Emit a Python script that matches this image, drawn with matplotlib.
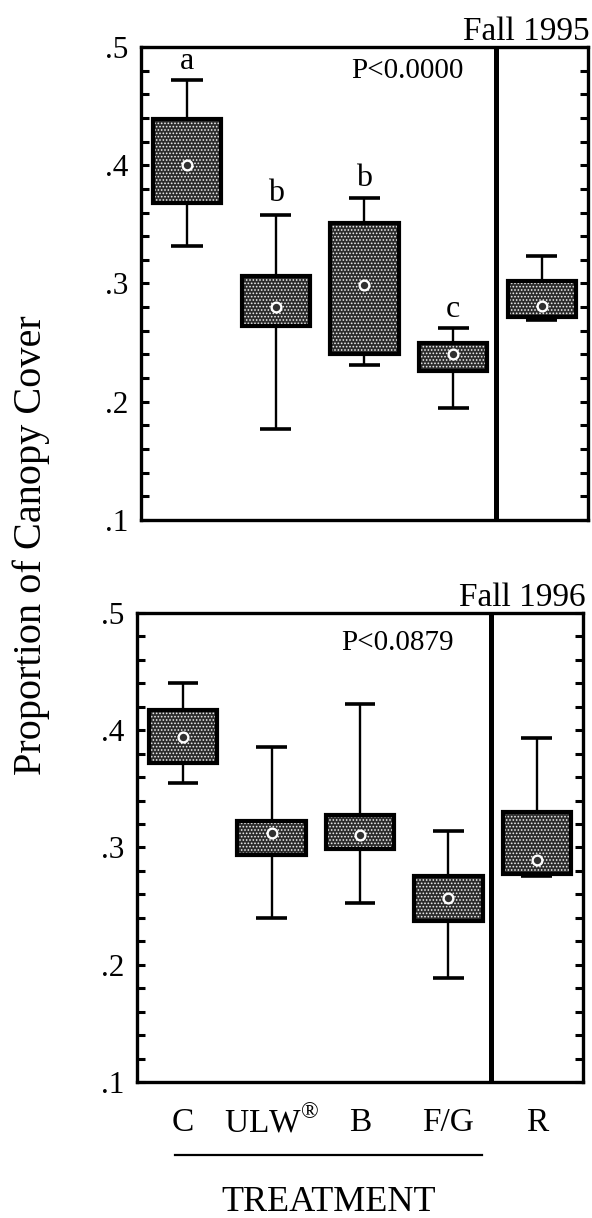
import matplotlib
matplotlib.use("Agg")
import matplotlib.pyplot as plt
from matplotlib.ticker import MultipleLocator, FixedLocator

plt.rcParams['font.family'] = ['Liberation Serif', 'DejaVu Serif']
plt.rcParams['mathtext.fontset'] = 'custom'
plt.rcParams['mathtext.rm'] = 'Liberation Serif'
plt.rcParams['hatch.linewidth'] = 0.75

# =========================
# data
# =========================
treatments = ['C', 'ULW$^{®}$', 'B', 'F/G', 'R']
positions = [1, 2, 3, 4, 5]

# Fall 1995
whisk_hi_95 = [0.472, 0.358, 0.372, 0.262, 0.323]
box_hi_95 = [0.439, 0.306, 0.351, 0.250, 0.302]
mean_95 = [0.400, 0.280, 0.299, 0.240, 0.281]
box_lo_95 = [0.368, 0.264, 0.240, 0.226, 0.272]
whisk_lo_95 = [0.332, 0.177, 0.231, 0.195, 0.269]
letters_95 = ['a', 'b', 'b', 'c', '']
letter_y_95 = [0.488, 0.376, 0.389, 0.278, None]

# Fall 1996
whisk_hi_96 = [0.440, 0.386, 0.422, 0.314, 0.393]
box_hi_96 = [0.417, 0.323, 0.328, 0.276, 0.330]
mean_96 = [0.394, 0.312, 0.311, 0.257, 0.289]
box_lo_96 = [0.372, 0.294, 0.299, 0.237, 0.277]
whisk_lo_96 = [0.355, 0.240, 0.253, 0.189, 0.276]

yticks = [0.1, 0.2, 0.3, 0.4, 0.5]
ytick_labels = ['.1', '.2', '.3', '.4', '.5']


def draw_panel(ax, w_hi, b_hi, mean, b_lo, w_lo, title, ptext, pxy):
    box_w = 0.77
    cap_w = 0.35
    heights = [h - l for h, l in zip(b_hi, b_lo)]

    ax.vlines(positions, b_hi, w_hi, color='black', lw=1.7, zorder=2)
    ax.vlines(positions, w_lo, b_lo, color='black', lw=1.7, zorder=2)
    ax.hlines(w_hi, [p - cap_w / 2 for p in positions],
              [p + cap_w / 2 for p in positions], color='black', lw=2.6, zorder=2)
    ax.hlines(w_lo, [p - cap_w / 2 for p in positions],
              [p + cap_w / 2 for p in positions], color='black', lw=2.6, zorder=2)

    # stippled fill, then black outline
    ax.bar(positions, heights, bottom=b_lo, width=box_w, color='#2c2c2c',
           edgecolor='#f0f0f0', hatch='.....', linewidth=0, zorder=3)
    ax.bar(positions, heights, bottom=b_lo, width=box_w, fill=False,
           edgecolor='black', linewidth=3.0, zorder=4)

    ax.plot(positions, mean, 'o', ms=7, mfc='#303030', mec='white', mew=1.7, zorder=5)

    ax.axvline(4.48, color='black', lw=3.6, zorder=6)

    ax.set_xlim(0.48, 5.52)
    ax.set_ylim(0.1, 0.5)
    ax.set_yticks(yticks)
    ax.set_yticklabels(ytick_labels, fontsize=22.5)
    ax.yaxis.set_minor_locator(MultipleLocator(0.02))
    ax.tick_params(axis='y', which='both', direction='in', left=True, right=True,
                   length=6, width=2.2, pad=9)

    # small white gaps in the bottom spine under each treatment
    ax.xaxis.set_major_locator(FixedLocator(positions[:4]))
    ax.tick_params(axis='x', which='major', direction='inout', length=5,
                   width=2.5, color='white', labelbottom=False)

    for s in ax.spines.values():
        s.set_linewidth(2.4)

    ax.text(1.005, 1.015, title, transform=ax.transAxes, ha='right',
            va='baseline', fontsize=24)
    ax.text(pxy[0], pxy[1], ptext, ha='center', va='center', fontsize=21)


fig = plt.figure(figsize=(5.92, 12.18), dpi=100)
ax1 = fig.add_axes([0.238, 0.573, 0.755, 0.3885])
ax2 = fig.add_axes([0.2314, 0.1117, 0.7534, 0.385])

draw_panel(ax1, whisk_hi_95, box_hi_95, mean_95, box_lo_95, whisk_lo_95,
           'Fall 1995', 'P<0.0000', (3.48, 0.480))
draw_panel(ax2, whisk_hi_96, box_hi_96, mean_96, box_lo_96, whisk_lo_96,
           'Fall 1996', 'P<0.0879', (3.42, 0.474))

for p, lab, ly in zip(positions, letters_95, letter_y_95):
    if lab:
        ax1.text(p, ly, lab, ha='center', va='center', fontsize=23)

# treatment labels under the lower panel
for p, lab in zip(positions, treatments):
    ax2.text(p, -0.087, lab, transform=ax2.get_xaxis_transform(),
             ha='center', va='center', fontsize=24)

ax2.plot([0.91, 4.38], [-0.156, -0.156], transform=ax2.get_xaxis_transform(),
         color='black', lw=1.6, clip_on=False)
ax2.text(2.64, -0.258, 'TREATMENT', transform=ax2.get_xaxis_transform(),
         ha='center', va='center', fontsize=26)

fig.text(0.052, 1 - 775 / 1218, 'Proportion of Canopy Cover', rotation=90,
         ha='center', va='bottom', fontsize=29)

fig.savefig('out.png', dpi=100)
